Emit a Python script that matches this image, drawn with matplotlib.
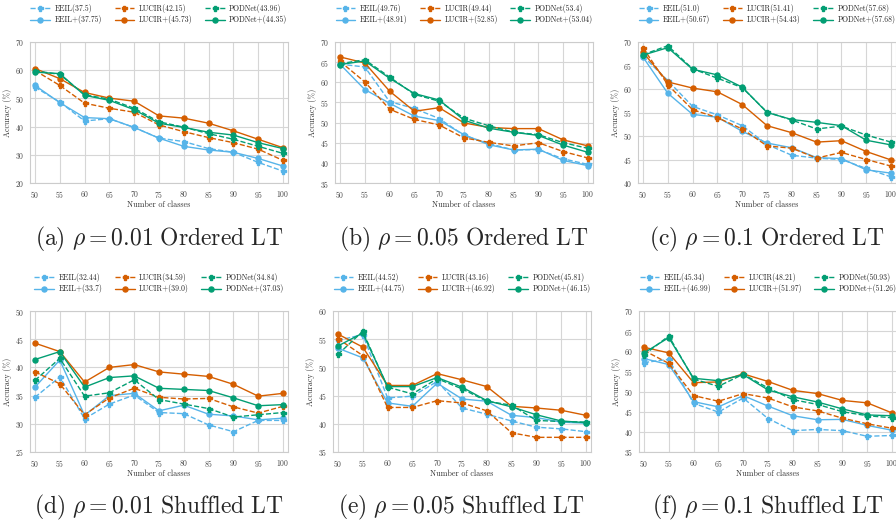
import matplotlib
matplotlib.use("Agg")
import matplotlib.pyplot as plt
import seaborn as sns

sns.set_style("whitegrid")
plt.rcParams['font.family'] = ['cmr10', 'DejaVu Serif']
plt.rcParams['mathtext.fontset'] = 'cm'
plt.rcParams['axes.formatter.use_mathtext'] = True
plt.rcParams['axes.unicode_minus'] = False

classes = [50, 55, 60, 65, 70, 75, 80, 85, 90, 95, 100]
methods = ["EEIL", "EEIL+", "LUCIR", "LUCIR+", "PODNet", "PODNet+"]

# (a) rho=0.01 Ordered
a_vals = {
    "EEIL":    [54.0, 48.7, 42.0, 42.8, 39.7, 35.9, 34.7, 32.2, 30.9, 27.3, 24.2],
    "EEIL+":   [54.6, 48.5, 43.2, 42.8, 39.7, 35.9, 33.0, 31.7, 30.9, 28.7, 26.0],
    "LUCIR":   [59.9, 54.6, 48.3, 46.5, 45.1, 40.6, 38.2, 36.1, 34.3, 32.0, 28.0],
    "LUCIR+":  [60.6, 57.0, 52.1, 50.1, 49.0, 43.8, 43.0, 41.2, 38.5, 35.5, 32.5],
    "PODNet":  [59.8, 58.5, 51.3, 49.7, 46.5, 41.7, 39.8, 37.5, 35.5, 33.0, 30.5],
    "PODNet+": [59.3, 58.8, 51.1, 49.3, 46.0, 41.2, 39.7, 38.0, 37.0, 34.3, 32.2],
}
a_means = [37.5, 37.75, 42.15, 45.73, 43.96, 44.35]

# (b) rho=0.05 Ordered
b_vals = {
    "EEIL":    [64.5, 63.8, 55.2, 53.5, 51.0, 46.8, 44.8, 43.2, 43.3, 41.0, 39.6],
    "EEIL+":   [64.5, 58.2, 54.8, 51.6, 50.5, 47.0, 44.5, 43.2, 43.4, 40.6, 39.3],
    "LUCIR":   [65.2, 60.1, 53.3, 50.8, 49.4, 46.2, 45.1, 44.2, 45.0, 42.8, 41.2],
    "LUCIR+":  [66.3, 64.8, 57.8, 52.8, 53.7, 49.9, 48.8, 48.5, 48.5, 45.7, 44.2],
    "PODNet":  [64.6, 65.6, 61.3, 57.0, 55.3, 51.1, 49.2, 47.6, 47.0, 45.0, 43.6],
    "PODNet+": [64.4, 65.3, 61.0, 57.2, 55.6, 50.6, 48.6, 47.6, 46.8, 44.4, 42.6],
}
b_means = [49.76, 48.91, 49.44, 52.85, 53.4, 53.04]

# (c) rho=0.1 Ordered
c_vals = {
    "EEIL":    [67.0, 61.8, 56.3, 54.5, 52.2, 48.2, 45.9, 45.3, 45.0, 43.1, 41.3],
    "EEIL+":   [66.8, 59.1, 54.6, 54.0, 51.0, 48.5, 47.5, 45.4, 45.2, 42.8, 42.1],
    "LUCIR":   [68.8, 60.9, 55.6, 53.9, 51.5, 47.9, 47.4, 45.3, 46.5, 45.0, 43.6],
    "LUCIR+":  [67.8, 61.5, 60.2, 59.4, 56.7, 52.2, 50.7, 48.7, 49.0, 46.7, 44.9],
    "PODNet":  [67.3, 69.2, 64.3, 62.3, 60.3, 55.1, 53.4, 51.5, 52.1, 50.2, 48.7],
    "PODNet+": [67.2, 68.8, 64.2, 63.0, 60.4, 55.0, 53.5, 52.9, 52.2, 49.1, 48.1],
}
c_means = [51.0, 50.67, 51.41, 54.43, 57.68, 57.68]

# (d) rho=0.01 Shuffled
d_vals = {
    "EEIL":    [34.7, 38.3, 30.9, 33.5, 35.1, 32.0, 31.8, 29.8, 28.6, 30.6, 30.6],
    "EEIL+":   [36.5, 41.3, 31.5, 35.0, 35.4, 32.3, 33.3, 31.7, 31.4, 30.7, 31.0],
    "LUCIR":   [39.2, 37.1, 31.6, 34.6, 36.3, 34.7, 34.4, 34.5, 33.0, 31.9, 33.1],
    "LUCIR+":  [44.3, 42.8, 37.4, 40.0, 40.5, 39.2, 38.8, 38.4, 37.0, 34.9, 35.4],
    "PODNet":  [37.7, 41.6, 34.9, 35.5, 37.8, 34.3, 33.5, 32.7, 31.2, 31.6, 32.0],
    "PODNet+": [41.4, 42.8, 36.5, 38.2, 38.5, 36.3, 36.1, 35.9, 34.6, 33.2, 33.4],
}
d_means = [32.44, 33.7, 34.59, 39.0, 34.84, 37.03]

# (e) rho=0.05 Shuffled
e_vals = {
    "EEIL":    [54.8, 55.8, 44.6, 44.9, 47.5, 42.8, 41.7, 40.5, 39.4, 39.1, 38.6],
    "EEIL+":   [53.4, 51.7, 43.7, 43.1, 47.2, 44.4, 44.0, 41.5, 41.1, 40.3, 40.1],
    "LUCIR":   [55.1, 52.1, 42.9, 42.9, 44.1, 43.7, 42.3, 38.4, 37.6, 37.6, 37.6],
    "LUCIR+":  [55.9, 53.6, 46.8, 46.8, 48.9, 47.8, 46.6, 43.1, 42.8, 42.4, 41.5],
    "PODNet":  [52.3, 56.4, 46.5, 45.3, 48.0, 46.2, 44.0, 43.3, 40.6, 40.4, 40.3],
    "PODNet+": [53.8, 56.1, 46.6, 46.6, 48.2, 46.5, 44.1, 43.0, 41.6, 40.5, 40.2],
}
e_means = [44.52, 44.75, 43.16, 46.92, 45.81, 46.15]

# (f) rho=0.1 Shuffled
f_vals = {
    "EEIL":    [57.2, 58.0, 47.1, 44.9, 48.4, 43.3, 40.3, 40.6, 40.3, 38.9, 39.1],
    "EEIL+":   [58.2, 56.7, 47.5, 46.2, 49.0, 46.4, 44.0, 43.0, 43.1, 41.6, 40.4],
    "LUCIR":   [60.2, 57.0, 49.0, 47.6, 49.5, 48.4, 46.2, 45.2, 43.4, 42.0, 40.9],
    "LUCIR+":  [61.0, 59.6, 52.2, 52.4, 54.4, 52.5, 50.3, 49.5, 47.8, 47.2, 44.7],
    "PODNet":  [59.1, 63.8, 53.1, 51.3, 54.3, 50.9, 48.0, 46.8, 45.0, 44.0, 43.5],
    "PODNet+": [59.6, 63.4, 53.3, 52.7, 54.2, 50.4, 48.7, 47.4, 45.7, 44.2, 44.0],
}
f_means = [45.34, 46.99, 48.21, 51.97, 50.93, 51.26]

captions = [
    r"$\mathrm{(a)}\ \rho = 0.01\ \mathrm{Ordered\ LT}$",
    r"$\mathrm{(b)}\ \rho = 0.05\ \mathrm{Ordered\ LT}$",
    r"$\mathrm{(c)}\ \rho = 0.1\ \mathrm{Ordered\ LT}$",
    r"$\mathrm{(d)}\ \rho = 0.01\ \mathrm{Shuffled\ LT}$",
    r"$\mathrm{(e)}\ \rho = 0.05\ \mathrm{Shuffled\ LT}$",
    r"$\mathrm{(f)}\ \rho = 0.1\ \mathrm{Shuffled\ LT}$",
]
ylims = [(20, 70, 10), (35, 70, 5), (40, 70, 5), (25, 50, 5), (35, 60, 5), (35, 70, 5)]
panels = [(a_vals, a_means), (b_vals, b_means), (c_vals, c_means),
          (d_vals, d_means), (e_vals, e_means), (f_vals, f_means)]

colors = {"EEIL": "#56B4E9", "LUCIR": "#D55E00", "PODNet": "#029E73"}

W, H = 896, 523
fig = plt.figure(figsize=(W / 100, H / 100), dpi=100)

lefts = [[30, 335, 638], [30, 333, 639]]
tops = [42, 311]
bottoms = [183, 452]
width_px = 258
caption_y = [239, 507]

for i, ((vals, means), cap, (y0, y1, st)) in enumerate(zip(panels, captions, ylims)):
    r, c = divmod(i, 3)
    l = lefts[r][c]
    ax = fig.add_axes([l / W, 1 - bottoms[r] / H, width_px / W, (bottoms[r] - tops[r]) / H])
    for m, mean in zip(methods, means):
        base = m.rstrip("+")
        plus = m.endswith("+")
        ax.plot(classes, vals[m], color=colors[base],
                linestyle='-' if plus else '--', marker='o' if plus else 'P',
                markersize=3.6, linewidth=1.0, label=f"{m}({mean})")
    ax.set_xlim(49, 101)
    ax.set_ylim(y0, y1)
    ax.set_xticks(classes)
    ax.set_yticks(list(range(y0, y1 + 1, st)))
    ax.tick_params(labelsize=5.5, pad=0.5, colors='#444444')
    ax.set_xlabel("Number of classes", fontsize=5.8, labelpad=0.5, color='#333333')
    ax.set_ylabel("Accuracy (%)", fontsize=5.8, labelpad=2, color='#333333')
    ax.grid(True, color='#d6d6d6', linewidth=0.8)
    for s in ax.spines.values():
        s.set_color('#cccccc')
        s.set_linewidth(0.8)
    ax.legend(loc='upper center', bbox_to_anchor=(0.5, 1.31),
              ncol=3, fontsize=5.5, frameon=False, handlelength=2.6,
              columnspacing=1.6, handletextpad=0.6, labelspacing=0.35,
              borderpad=0.2)
    cx = (l + width_px / 2) / W
    fig.text(cx, 1 - caption_y[r] / H, cap, ha='center', va='center', fontsize=17)

fig.savefig("out.png", dpi=100)
